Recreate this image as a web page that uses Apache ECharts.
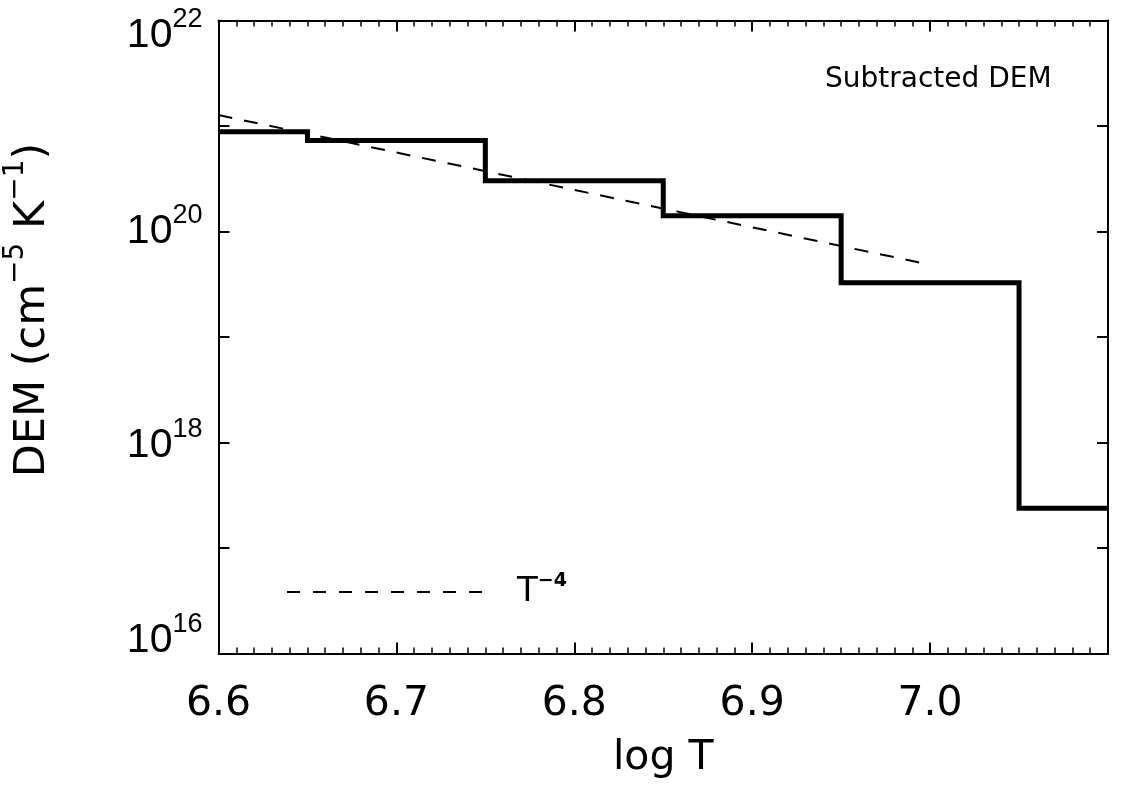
<!DOCTYPE html>
<html>
<head>
<meta charset="utf-8">
<script src="https://cdn.jsdelivr.net/npm/echarts@6/dist/echarts.min.js"></script>
<style>
html,body{margin:0;padding:0;background:#fff;}
#chart{width:1121px;height:786px;}
</style>
</head>
<body>
<div id="chart"></div>
<script>
// Bin edges (log T) and DEM values (cm^-5 K^-1) of the subtracted DEM histogram
var binEdges = [6.60, 6.65, 6.75, 6.85, 6.95, 7.05, 7.10];
var demValues = [8.8e20, 7.3e20, 3.03e20, 1.41e20, 3.27e19, 2.38e17];
// T^-4 reference line end points
var refLogT = [6.60, 7.00];
var refDEM = [1.27e21, 4.84e19];
// tick labels
var xTickLabels = ['6.6', '6.7', '6.8', '6.9', '7.0'];
var yLabelExponents = [16, 18, 20, 22];

var FONT = 'DejaVu Sans';

// build step series data: each bin starts at its left edge, last point closes the final bin
var stepData = [];
for (var i = 0; i < demValues.length; i++) {
  stepData.push([binEdges[i], demValues[i]]);
}
stepData.push([binEdges[binEdges.length - 1], demValues[demValues.length - 1]]);

var refData = refLogT.map(function (t, i) { return [t, refDEM[i]]; });

// label vertical nudges (px) of the y tick labels, as in the original layout
var labelNudge = {16: -13, 18: 3, 20: 0, 22: 15};
var SUP_RAISE = 15.5;
var yRich = {};
yLabelExponents.forEach(function (e) {
  var off = labelNudge[e];
  yRich['b' + e] = {
    fontFamily: 'Liberation Sans', fontSize: 41, color: '#000', lineHeight: 46,
    padding: off >= 0 ? [2 * off, 0, 0, 0] : [0, 0, -2 * off, 0]
  };
  var net = off - SUP_RAISE;
  yRich['s' + e] = {
    fontFamily: 'Liberation Sans', fontSize: 27, color: '#000', lineHeight: 46,
    padding: net >= 0 ? [2 * net, 0, 0, 0] : [0, 0, -2 * net, 0]
  };
});

var chart = echarts.init(document.getElementById('chart'), null, {renderer: 'canvas'});

var axisLineStyle = {color: '#000', width: 2};
var xCommon = {
  type: 'value', min: 6.6, max: 7.1, interval: 0.1,
  axisLine: {show: true, onZero: false, lineStyle: axisLineStyle},
  axisTick: {show: true, inside: true, length: 11, lineStyle: {color: '#000', width: 2}},
  minorTick: {show: true, splitNumber: 10, length: 6, lineStyle: {color: '#000', width: 1.5}},
  splitLine: {show: false}
};
var yCommon = {
  type: 'log', logBase: 10, min: 1e16, max: 1e22, interval: 1,
  axisLine: {show: true, onZero: false, lineStyle: axisLineStyle},
  axisTick: {show: true, inside: true, length: 11, lineStyle: {color: '#000', width: 2}},
  splitLine: {show: false}
};

var option = {
  backgroundColor: '#fff',
  animation: false,
  grid: {left: 218.5, top: 20.5, right: 13, bottom: 132.5, containLabel: false, outerBoundsMode: 'none'},
  title: {
    text: 'Subtracted DEM', left: 820, top: 61,
    textStyle: {fontFamily: FONT, fontSize: 28, fontWeight: 'normal', color: '#000'}
  },
  legend: {
    data: ['T-4'],
    left: 281, top: 567,
    itemWidth: 201, itemHeight: 16,
    itemStyle: {opacity: 0},
    lineStyle: {color: '#000', width: 2, type: [13, 13]},
    formatter: function () { return '{b|T}{s|−4}'; },
    textStyle: {
      color: '#000', padding: [0, 0, 0, 24],
      rich: {
        b: {fontFamily: FONT, fontSize: 34, color: '#000', lineHeight: 40},
        s: {fontFamily: FONT, fontSize: 19, fontWeight: 'bold', color: '#000', verticalAlign: 'top', lineHeight: 40, padding: [0, 0, 14, 0]}
      }
    }
  },
  xAxis: [
    Object.assign({}, xCommon, {
      position: 'bottom',
      name: 'log T', nameLocation: 'middle', nameGap: 84,
      nameTextStyle: {fontFamily: FONT, fontSize: 41, color: '#000'},
      axisLabel: {
        show: true, margin: 30, color: '#000', fontFamily: FONT, fontSize: 41,
        formatter: function (v) {
          var s = v.toFixed(1);
          return xTickLabels.indexOf(s) >= 0 ? s : '';
        }
      }
    }),
    Object.assign({}, xCommon, {position: 'top', axisLabel: {show: false}})
  ],
  yAxis: [
    Object.assign({}, yCommon, {
      position: 'left',
      axisLabel: {
        show: true, margin: 16, color: '#000',
        formatter: function (v) {
          var e = Math.round(Math.log10(v));
          return yLabelExponents.indexOf(e) >= 0 ? '{b' + e + '|10}{s' + e + '|' + e + '}' : '';
        },
        rich: yRich
      }
    }),
    Object.assign({}, yCommon, {position: 'right', axisLabel: {show: false}})
  ],
  graphic: [{
    type: 'text',
    x: 28, y: 310,
    rotation: Math.PI / 2,
    style: {
      text: '{b|DEM (cm}{s|−5}{b| K}{s|−1}{b|)}',
      align: 'center', verticalAlign: 'middle',
      rich: {
        b: {fontFamily: FONT, fontSize: 43, fill: '#000', lineHeight: 52, padding: [10, 0, 0, 0]},
        s: {fontFamily: FONT, fontSize: 28, fill: '#000', lineHeight: 52, verticalAlign: 'top', padding: [0, 0, 12, 0]}
      }
    }
  }],
  series: [
    {
      name: 'DEM', type: 'line', step: 'end', data: stepData,
      xAxisIndex: 0, yAxisIndex: 0,
      showSymbol: false, symbol: 'none',
      lineStyle: {color: '#000', width: 5, cap: 'butt', join: 'miter'},
      z: 3
    },
    {
      name: 'T-4', type: 'line', data: refData,
      xAxisIndex: 0, yAxisIndex: 0,
      showSymbol: false, symbol: 'none',
      lineStyle: {color: '#000', width: 2, type: [14, 12]},
      itemStyle: {color: '#000'},
      z: 2
    }
  ]
};
chart.setOption(option);
</script>
</body>
</html>
